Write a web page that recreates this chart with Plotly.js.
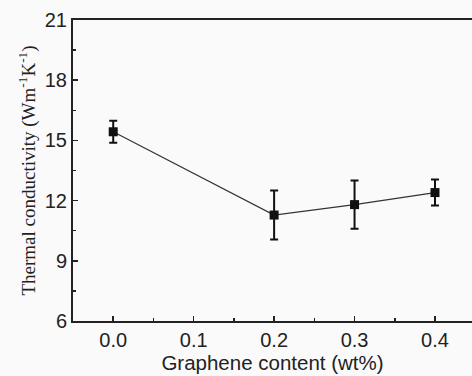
<!DOCTYPE html>
<html><head><meta charset="utf-8">
<script src="https://cdn.plot.ly/plotly-3.0.1.min.js"></script>
<style>html,body{margin:0;padding:0;background:#fafafa}</style>
</head><body>
<div id="chart" style="width:472px;height:376px"></div>
<script>
const grapheneContent = [0.0, 0.2, 0.3, 0.4];
const conductivity = [15.43, 11.28, 11.8, 12.4];
const conductivityErr = [0.55, 1.22, 1.2, 0.65];
const xTickVals = [0.0, 0.1, 0.2, 0.3, 0.4];
const xTickText = ['0.0', '0.1', '0.2', '0.3', '0.4'];
const yTickVals = [6, 9, 12, 15, 18, 21];

const trace = {
  x: grapheneContent, y: conductivity, type: 'scatter', mode: 'lines+markers',
  line: {color: '#333', width: 1.2},
  marker: {symbol: 'square', size: 9, color: '#111'},
  error_y: {type: 'data', array: conductivityErr, visible: true, color: '#111', thickness: 2, width: 4},
  showlegend: false
};
const layout = {
  width: 472, height: 376,
  margin: {l: 73, r: 0, t: 20, b: 55},
  paper_bgcolor: '#fafafa', plot_bgcolor: '#fafafa',
  xaxis: {
    range: [-0.05, 0.446], tickvals: xTickVals, ticktext: xTickText,
    ticks: 'inside', ticklen: 5, tickwidth: 1.5, tickcolor: '#222',
    minor: {ticks: 'inside', dtick: 0.05, tick0: 0.05, ticklen: 3, tickwidth: 1.5, tickcolor: '#222'},
    showline: true, linewidth: 2, linecolor: '#222', mirror: true,
    showgrid: false, zeroline: false,
    tickfont: {family: 'Liberation Sans, Arial, sans-serif', size: 20, color: '#222'},
    title: {text: 'Graphene content (wt%)', font: {family: 'Liberation Sans, Arial, sans-serif', size: 20.5, color: '#222'}, standoff: 6}
  },
  yaxis: {
    range: [6, 21], tickvals: yTickVals,
    ticks: 'inside', ticklen: 5, tickwidth: 1.5, tickcolor: '#222',
    minor: {ticks: 'inside', dtick: 1.5, tick0: 7.5, ticklen: 3, tickwidth: 1.5, tickcolor: '#222'},
    showline: true, linewidth: 2, linecolor: '#222',
    showgrid: false, zeroline: false,
    tickfont: {family: 'Liberation Sans, Arial, sans-serif', size: 20, color: '#222'},
    title: {text: 'Thermal conductivity (Wm<sup>-1</sup>K<sup>-1</sup>)', font: {family: 'Liberation Serif, Times New Roman, serif', size: 19, color: '#222'}, standoff: 4}
  }
};
Plotly.newPlot('chart', [trace], layout, {displayModeBar: false, staticPlot: true});
</script>
</body></html>
